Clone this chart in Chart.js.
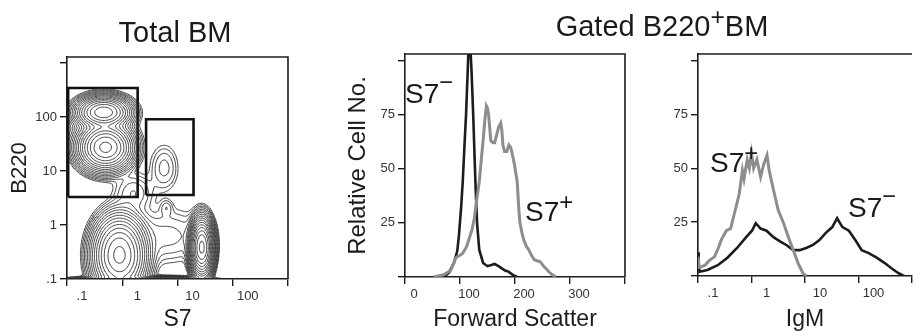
<!DOCTYPE html>
<html>
<head>
<meta charset="utf-8">
<script src="https://cdn.jsdelivr.net/npm/chart.js@4.4.1/dist/chart.umd.min.js"></script>
<style>
  body { margin: 0; background: #fff; }
  #wrap { position: relative; width: 915px; height: 331px; overflow: hidden; font-family: "Liberation Sans", Arial, sans-serif; color: #1a1a1a; }
  canvas { position: absolute; top: 0; }
  .txt { position: absolute; line-height: 1; white-space: nowrap; }
  .head { font-size: 29px; transform: translateX(-50%); }
  .tag { font-size: 28px; }
  .up { position: relative; font-size: 0.85em; }
</style>
</head>
<body>
<div id="wrap">
  <canvas id="bm" width="300" height="331" style="left:0"></canvas>
  <canvas id="fsc" width="305" height="331" style="left:330px"></canvas>
  <canvas id="igm" width="275" height="331" style="left:640px"></canvas>

  <div class="txt head" style="left:175px; top:18px">Total BM</div>
  <div class="txt head" style="left:662px; top:12px">Gated B220<span class="up" style="top:-0.45em">+</span>BM</div>

  <div class="txt tag" style="left:405px; top:80px">S7<span class="up" style="top:-0.55em">&minus;</span></div>
  <div class="txt tag" style="left:525px; top:198px">S7<span class="up" style="top:-0.45em">+</span></div>
  <div class="txt tag" style="left:710px; top:149px">S7<span class="up" style="top:-0.45em">+</span></div>
  <div class="txt tag" style="left:848px; top:194px">S7<span class="up" style="top:-0.55em">&minus;</span></div>
</div>

<script>
// axis ticks
const logTicks = [0.1, 1, 10, 100, 1000];
const logTickLabels = [".1", "1", "10", "100", ""];
const fscTicks = [0, 100, 200, 300, 400];
const fscTickLabels = ["0", "100", "200", "300", ""];
const countTicks = [0, 25, 50, 75, 100];
const countTickLabels = ["", "25", "50", "75", ""];

// Total BM: cell populations
// centre S7, centre B220, spread (decades) and relative peak height
const popS7 = [0.46, 0.5, 0.45, 1.6, 5.75, 6.3, 6.3, 0.89, 27.5, 2.0];
const popB220 = [123, 27.5, 56, 4.0, 11.5, 2.1, 0.63, 0.28, 0.39, 0.089];
const popSpreadS7 = [0.2, 0.2, 0.3, 0.2, 0.15, 0.07, 0.45, 0.2, 0.085, 0.55];
const popSpreadB220 = [0.12, 0.18, 0.35, 0.2, 0.25, 0.09, 0.3, 0.3, 0.22, 0.04];
const popHeight = [0.8, 1.0, 0.01, 0.01, 0.008, 0.005, 0.008, 1.0, 1.5, 0.25];

// gates (S7 low/high, B220 low/high)
const gateS7Low = [0.105, 2.7];
const gateS7High = [1.9, 19.5];
const gateB220Low = [3.3, 3.6];
const gateB220High = [347, 91];

// forward scatter histograms
const negFsc = [70, 80, 89, 95, 98, 102, 105, 108, 111, 114, 116, 118, 121, 124, 128, 131, 135, 142, 150, 157, 163, 170, 176, 182, 188, 196, 204];
const negFscCount = [0, 2, 6.5, 12, 19, 32, 44, 60, 75, 95, 110, 110, 95, 75, 44, 25, 12.6, 6.5, 5, 5.5, 6, 5, 4, 3, 2.5, 1, 0];
const posFsc = [52, 70, 83, 88, 93, 100, 105, 112, 117, 122, 126, 130, 135, 139, 142, 145, 148, 150, 152, 156, 160, 163, 167, 170, 174, 176, 178, 181, 185, 189, 192, 194, 199, 204, 207, 209, 213, 216, 221, 225, 230, 235, 240, 246, 253, 258, 262, 268, 274];
const posFscCount = [0, 1, 3, 6, 9, 10, 11, 14, 18, 22, 27, 35, 44, 55, 63, 72, 79, 78, 75, 63, 62, 62, 66, 69, 71, 68, 61, 58, 58, 61, 60, 58, 52, 44, 31, 25, 20, 17, 14, 12.6, 10, 8, 7.5, 7, 4.7, 3.5, 2.3, 1, 0];

// IgM histograms
const posIgm = [0.1, 0.105, 0.12, 0.135, 0.16, 0.204, 0.24, 0.275, 0.339, 0.407, 0.479, 0.589, 0.676, 0.724, 0.832, 0.912, 1.0, 1.096, 1.26, 1.48, 1.70, 1.95, 2.14, 2.57, 3.16, 3.98, 4.90, 6.03, 7.41, 9.12, 10.5];
const posIgmCount = [9, 4, 4.5, 5, 7, 9, 13, 17, 21, 22, 29, 38, 49, 45, 54, 50, 57, 50, 54, 46, 52, 56, 49, 40, 30.5, 24.5, 18, 12, 6, 1.4, 0];
const negIgm = [0.1, 0.103, 0.107, 0.15, 0.234, 0.355, 0.537, 0.794, 1.02, 1.20, 1.48, 1.91, 2.57, 3.47, 4.47, 6.03, 7.94, 10.5, 14.1, 18.6, 24.5, 32.4, 39.8, 50.1, 66.1, 87.1, 115, 155, 219, 309, 407, 550, 708];
const negIgmCount = [11, 6, 2, 2.8, 5, 8.5, 13, 18, 21, 24.5, 22, 21, 18, 16, 14.4, 12, 12, 13, 14.4, 16.7, 20, 22.7, 26.8, 22.7, 21, 16.7, 12, 10.6, 8.5, 6, 3.7, 1.4, 0];

const ink = "#1c1c1c";
const gray = "#8d8d8d";
const family = "'Liberation Sans', Arial, sans-serif";

function pairs(xs, ys) {
    return xs.map((x, i) => ({ x: x, y: ys[i] }));
}

// density of the populations on a grid of decades, then marching squares
function contourData() {
    const step = 0.025, x0 = -1.2, y0 = -1.3;
    const nx = Math.round((3.1 - x0) / step) + 1;
    const ny = Math.round((3.2 - y0) / step) + 1;
    const cx = popS7.map(Math.log10), cy = popB220.map(Math.log10);
    const field = new Float64Array(nx * ny);
    let peak = 0;
    for (let j = 0; j < ny; j++) {
        for (let i = 0; i < nx; i++) {
            const u = x0 + i * step, v = y0 + j * step;
            let d = 0;
            for (let k = 0; k < cx.length; k++) {
                const a = (u - cx[k]) / popSpreadS7[k], b = (v - cy[k]) / popSpreadB220[k];
                d += popHeight[k] * Math.exp(-0.5 * (a * a + b * b));
            }
            field[j * nx + i] = d;
            peak = Math.max(peak, d);
        }
    }
    // which edges each corner case crosses: s, e, n, w
    const cases = [[], ["s", "w"], ["s", "e"], ["w", "e"], ["e", "n"], ["s", "w", "e", "n"], ["s", "n"], ["w", "n"],
        ["w", "n"], ["s", "n"], ["s", "e", "w", "n"], ["e", "n"], ["w", "e"], ["s", "e"], ["s", "w"], []];
    const out = [];
    const push = (p) => out.push({ x: Math.pow(10, p[0]), y: Math.pow(10, p[1]) });
    for (let lv = 0; lv < 20; lv++) {
        const level = 0.002 * Math.pow(1.5, lv);
        if (level > peak) break;
        for (let j = 0; j < ny - 1; j++) {
            for (let i = 0; i < nx - 1; i++) {
                const a = field[j * nx + i], b = field[j * nx + i + 1];
                const c = field[(j + 1) * nx + i + 1], d = field[(j + 1) * nx + i];
                const idx = (a > level ? 1 : 0) | (b > level ? 2 : 0) | (c > level ? 4 : 0) | (d > level ? 8 : 0);
                if (idx === 0 || idx === 15) continue;
                const x = x0 + i * step, y = y0 + j * step;
                const edge = {
                    s: () => [x + step * (level - a) / (b - a), y],
                    e: () => [x + step, y + step * (level - b) / (c - b)],
                    n: () => [x + step * (level - d) / (c - d), y + step],
                    w: () => [x, y + step * (level - a) / (d - a)],
                };
                const list = cases[idx];
                for (let s = 0; s < list.length; s += 2) {
                    push(edge[list[s]]());
                    push(edge[list[s + 1]]());
                    out.push({ x: null, y: null });
                }
            }
        }
    }
    return out;
}

function gateData() {
    const out = [];
    for (let g = 0; g < gateS7Low.length; g++) {
        const x1 = gateS7Low[g], x2 = gateS7High[g], y1 = gateB220Low[g], y2 = gateB220High[g];
        out.push({ x: x1, y: y1 }, { x: x2, y: y1 }, { x: x2, y: y2 }, { x: x1, y: y2 }, { x: x1, y: y1 }, { x: null, y: null });
    }
    return out;
}

function axis(o) {
    return {
        type: o.type,
        min: o.min,
        max: o.max,
        afterBuildTicks: (s) => { s.ticks = o.ticks.map((v) => ({ value: v })); },
        afterFit: (s) => {
            if (o.width != null) s.width = o.width;
            if (o.height != null) s.height = o.height;
        },
        border: { display: true, color: ink, width: 1.6 },
        grid: { display: true, drawOnChartArea: false, drawTicks: true, tickLength: 7, color: ink, lineWidth: 1.4 },
        ticks: {
            autoSkip: false,
            maxRotation: 0,
            color: "#333",
            padding: 3,
            labelOffset: o.labelOffset || 0,
            font: { size: 13, family: family },
            callback: (v, i) => o.labels[i],
        },
        title: o.title
            ? { display: true, text: o.title, color: ink, font: { size: o.titleSize || 23, family: family, lineHeight: 1 }, padding: o.titlePad }
            : { display: false },
    };
}

const framePlugin = {
    id: "frame",
    afterDatasetsDraw(chart, args, opts) {
        const { ctx, chartArea: a } = chart;
        ctx.save();
        ctx.strokeStyle = ink;
        ctx.lineWidth = 1.6;
        ctx.beginPath();
        ctx.moveTo(a.left, a.top);
        ctx.lineTo(a.right, a.top);
        if (opts.right) ctx.lineTo(a.right, a.bottom);
        ctx.stroke();
        ctx.restore();
    },
};

function baseOptions(padding, scales, frameRight) {
    return {
        responsive: false,
        animation: false,
        layout: { padding: padding },
        scales: scales,
        plugins: { legend: { display: false }, tooltip: { enabled: false }, frame: { right: frameRight } },
        elements: { point: { radius: 0 } },
    };
}

Chart.register(framePlugin);

new Chart(document.getElementById("bm"), {
    type: "scatter",
    data: {
        datasets: [
            { label: "contours", data: contourData(), showLine: true, spanGaps: false, borderColor: "#2a2a2a", borderWidth: 0.85, pointRadius: 0 },
            { label: "gates", data: gateData(), showLine: true, spanGaps: false, borderColor: "#111", borderWidth: 2.6, pointRadius: 0 },
        ],
    },
    options: baseOptions({ top: 57, right: 12, left: 0, bottom: 0 }, {
        x: axis({ type: "logarithmic", min: 0.1, max: 1000, ticks: logTicks, labels: logTickLabels, labelOffset: 15, height: 52, title: "S7", titlePad: { top: 0, bottom: 0 } }),
        y: axis({ type: "logarithmic", min: 0.1, max: 1300, ticks: logTicks, labels: logTickLabels, width: 67, title: "B220", titleSize: 22, titlePad: { top: 9, bottom: 0 } }),
    }, true),
});

new Chart(document.getElementById("fsc"), {
    type: "scatter",
    data: {
        datasets: [
            { label: "S7+", data: pairs(posFsc, posFscCount), showLine: true, borderColor: gray, borderWidth: 3, pointRadius: 0 },
            { label: "S7-", data: pairs(negFsc, negFscCount), showLine: true, borderColor: ink, borderWidth: 2.6, pointRadius: 0 },
        ],
    },
    options: baseOptions({ top: 54, right: 10, left: 0, bottom: 0 }, {
        x: axis({ type: "linear", min: 0, max: 400, ticks: fscTicks, labels: fscTickLabels, labelOffset: 9, height: 54, title: "Forward Scatter", titlePad: { top: 0, bottom: 0 } }),
        y: axis({ type: "linear", min: 0, max: 103, ticks: countTicks, labels: countTickLabels, width: 75, title: "Relative Cell No.", titleSize: 24, titlePad: { top: 16, bottom: 0 } }),
    }, true),
});

new Chart(document.getElementById("igm"), {
    type: "scatter",
    data: {
        datasets: [
            { label: "S7+", data: pairs(posIgm, posIgmCount), showLine: true, borderColor: gray, borderWidth: 3, pointRadius: 0 },
            { label: "S7-", data: pairs(negIgm, negIgmCount), showLine: true, borderColor: ink, borderWidth: 2.6, pointRadius: 0 },
        ],
    },
    options: baseOptions({ top: 54, right: 0, left: 0, bottom: 0 }, {
        x: axis({ type: "logarithmic", min: 0.1, max: 1000, ticks: logTicks, labels: logTickLabels, labelOffset: 15, height: 55, title: "IgM", titlePad: { top: 0, bottom: 0 } }),
        y: axis({ type: "linear", min: 0, max: 103, ticks: countTicks, labels: countTickLabels, width: 58 }),
    }, false),
});
</script>
</body>
</html>
